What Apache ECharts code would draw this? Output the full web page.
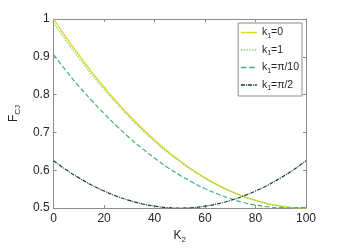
<!DOCTYPE html>
<html><head><meta charset="utf-8">
<script src="https://cdn.jsdelivr.net/npm/echarts@6/dist/echarts.min.js"></script>
<style>html,body{margin:0;padding:0;background:#fff}#c{width:339px;height:249px}</style>
</head><body><div id="c"></div>
<script>
var K2 = [0,5,10,15,20,25,30,35,40,45,50,55,60,65,70,75,80,85,90,95,100];
var k1_0    = [1.000,0.951,0.905,0.861,0.820,0.781,0.745,0.711,0.680,0.651,0.625,0.601,0.580,0.561,0.545,0.531,0.520,0.511,0.505,0.501,0.500];
var k1_1    = [0.990,0.942,0.897,0.854,0.814,0.776,0.740,0.707,0.676,0.648,0.623,0.599,0.578,0.560,0.544,0.531,0.520,0.511,0.505,0.501,0.500];
var k1_pi10 = [0.905,0.863,0.822,0.785,0.750,0.717,0.686,0.658,0.632,0.608,0.587,0.568,0.551,0.537,0.525,0.515,0.508,0.503,0.501,0.5005,0.502];
var k1_pi2  = [0.625,0.601,0.580,0.561,0.545,0.531,0.520,0.511,0.505,0.501,0.500,0.501,0.505,0.511,0.520,0.531,0.545,0.561,0.580,0.601,0.625];
var names = ['0','1','π/10','π/2'];
var xTicks = [0,20,40,60,80,100];
var yTicks = [0.5,0.6,0.7,0.8,0.9,1];

function pairs(arr){ return K2.map(function(k,i){ return [k, arr[i]]; }); }
var font = 'Liberation Sans, Arial, Helvetica, sans-serif';
var axisCol = '#8c8c8c';
var txtCol = '#262626';
var chart = echarts.init(document.getElementById('c'), null, {renderer:'canvas'});
var baseX = {type:'value', min:0, max:100, interval:20,
  axisLine:{show:true, onZero:false, lineStyle:{color:axisCol, width:1}},
  axisTick:{show:true, inside:true, length:3, lineStyle:{color:axisCol}},
  splitLine:{show:false}};
var baseY = {type:'value', min:0.5, max:1, interval:0.1,
  axisLine:{show:true, onZero:false, lineStyle:{color:axisCol, width:1}},
  axisTick:{show:true, inside:true, length:3, lineStyle:{color:axisCol}},
  splitLine:{show:false}};
function mk(name, data, color, type, w){
  return {name:name, type:'line', data:pairs(data), xAxisIndex:0, yAxisIndex:0,
    showSymbol:false, symbol:'none', smooth:true, animation:false,
    lineStyle:{color:color, width:w, type:type}, itemStyle:{color:color}};
}
chart.setOption({
  animation:false,
  grid:{left:44, top:19, right:33, bottom:41, show:false},
  xAxis:[
    Object.assign({}, baseX, {position:'bottom', name:'K{s|2}', nameLocation:'middle', nameGap:18,
      nameTextStyle:{color:txtCol, fontFamily:font, fontSize:12, rich:{s:{fontSize:8, padding:[8,0,0,0], color:txtCol, fontFamily:font}}},
      axisLabel:{color:txtCol, fontFamily:font, fontSize:12, margin:5,
        formatter:function(v){ return xTicks.indexOf(v)>=0 ? String(v) : ''; }}}),
    Object.assign({}, baseX, {position:'top', axisLabel:{show:false}})
  ],
  yAxis:[
    Object.assign({}, baseY, {position:'left', name:'F{s|CJ}', nameLocation:'middle', nameGap:26, nameRotate:90,
      nameTextStyle:{color:txtCol, fontFamily:font, fontSize:12, rich:{s:{fontSize:8, padding:[8,0,0,0], color:txtCol, fontFamily:font}}},
      axisLabel:{color:txtCol, fontFamily:font, fontSize:12, margin:4,
        formatter:function(v){ var r=Math.round(v*10)/10; return yTicks.indexOf(r)>=0 ? String(r) : ''; }}}),
    Object.assign({}, baseY, {position:'right', axisLabel:{show:false}})
  ],
  legend:{
    right:37, top:23, orient:'vertical', itemGap:5, itemWidth:16, itemHeight:10,
    padding:[4,3,4,2], borderColor:'#8c8c8c', borderWidth:1, backgroundColor:'#fff',
    itemStyle:{opacity:0},
    lineStyle:{width:1.4},
    textStyle:{color:txtCol, fontFamily:font, fontSize:10.5, rich:{s:{fontSize:7, padding:[7,0,0,0], color:txtCol, fontFamily:font}}},
    formatter:function(n){ return 'k{s|1}=' + n; }
  },
  series:[
    mk(names[0], k1_0, '#e0d81a', 'solid', 1.3),
    mk(names[1], k1_1, '#8fd36a', 'dotted', 1.3),
    mk(names[2], k1_pi10, '#3fb57c', 'dashed', 1.2),
    mk(names[3], k1_pi2, '#163d2e', [4,1,1,1], 1.2)
  ]
});
</script></body></html>
